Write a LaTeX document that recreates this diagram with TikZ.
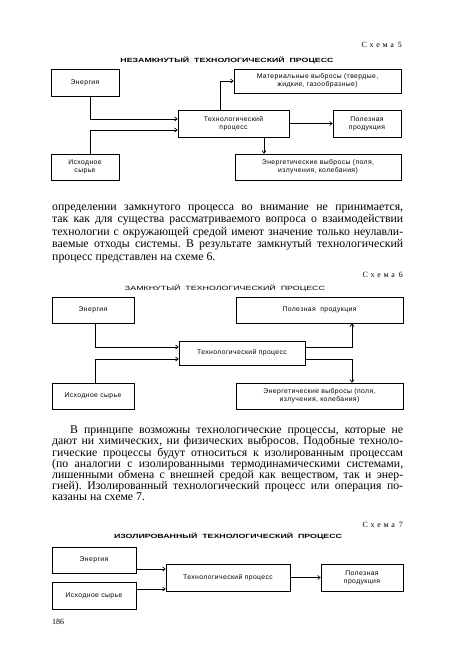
\documentclass[tikz,border=0pt]{standalone}
\usepackage{fontspec}
\setmainfont{Liberation Serif}
\newfontfamily\boxfont[LetterSpace=6]{Liberation Sans}
\newfontfamily\titlefont{Liberation Sans}
\usetikzlibrary{arrows.meta}
\newcommand\plinebox[1]{\makebox[351pt][s]{#1}}
\frenchspacing
\begin{document}
\begin{tikzpicture}[x=1pt,y=-1pt,
  box/.style={draw, line width=0.7pt, inner sep=0pt, align=center,
    font=\boxfont\fontsize{6.8}{8}\selectfont},
  con/.style={line width=0.7pt, -{Straight Barb[length=2.5pt,width=4pt]}},
  body/.style={anchor=base west, inner sep=0pt, font=\fontsize{11.8}{12}\selectfont},
  schema/.style={anchor=base east, inner sep=0pt, font=\fontsize{8}{9}\selectfont},
  ttl/.style={anchor=base, inner sep=0pt}]
\useasboundingbox[fill=white] (0,0) rectangle (450,662);

% ---------- Scheme 5 ----------
\node[schema] (c5) at (402,47) {С\,\,х\,\,е\,\,м\,\,а\,\,\,5};
\node[ttl] (t5) at (227,62) {\resizebox{213pt}{5.5pt}{\titlefont\bfseries НЕЗАМКНУТЫЙ\ \ ТЕХНОЛОГИЧЕСКИЙ\ \ ПРОЦЕСС}};

\node[box, minimum width=68pt, minimum height=27pt] (e5) at (85,82.5) {Энергия};
\node[box, minimum width=167pt, minimum height=24pt] (m5) at (317.5,81) {Материальные выбросы (твердые,\\жидкие, газообразные)};
\node[box, minimum width=111pt, minimum height=27pt] (p5) at (233.5,123.5) {Технологический\\процесс};
\node[box, minimum width=68pt, minimum height=27pt] (u5) at (367,123.5) {Полезная\\продукция};
\node[box, minimum width=68pt, minimum height=26pt] (s5) at (85,167) {Исходное\\сырье};
\node[box, minimum width=166pt, minimum height=26pt] (r5) at (318,167) {Энергетические выбросы (поля,\\излучения, колебания)};

\draw[con] ([xshift=5pt]e5.south) |- ([yshift=4.5pt]p5.west);
\draw[con] ([xshift=5pt]s5.north) |- ([yshift=-6.5pt]p5.west);
\draw[con] ([xshift=-13.5pt]p5.north) |- (m5.west);
\draw[con] (p5) -- (u5);
\draw[con] ([xshift=30.5pt]p5.south) -- ([xshift=30.5pt]p5.south |- r5.north);

% ---------- Paragraph 1 ----------
\node[body] (a1) at (52,210) {\plinebox{определении замкнутого процесса во внимание не принимается,}};
\node[body] (a2) at (52,222.5) {\plinebox{так как для существа рассматриваемого вопроса о взаимодействии}};
\node[body] (a3) at (52,235) {\plinebox{технологии с окружающей средой имеют значение только неулавли-}};
\node[body] (a4) at (52,247.5) {\plinebox{ваемые отходы системы. В результате замкнутый технологический}};
\node[body] (a5) at (52,260) {процесс представлен на схеме 6.};

% ---------- Scheme 6 ----------
\node[schema] (c6) at (403,277) {С\,\,х\,\,е\,\,м\,\,а\,\,\,6};
\node[ttl] (t6) at (225,290) {\resizebox{200pt}{5.5pt}{\titlefont ЗАМКНУТЫЙ\ \ ТЕХНОЛОГИЧЕСКИЙ\ \ ПРОЦЕСС}};

\node[box, minimum width=82pt, minimum height=26pt] (e6) at (93,310) {Энергия};
\node[box, minimum width=167pt, minimum height=26pt] (u6) at (319.5,310) {Полезная\ \ продукция};
\node[box, minimum width=126pt, minimum height=24pt] (p6) at (242,353) {Технологический процесс};
\node[box, minimum width=82pt, minimum height=26pt] (s6) at (93,396) {Исходное сырье};
\node[box, minimum width=167pt, minimum height=26pt] (r6) at (319.5,396) {Энергетические выбросы (поля,\\излучения, колебания)};

\draw[con] ([xshift=2pt]e6.south) |- ([yshift=6pt]p6.west);
\draw[con] ([xshift=2pt]s6.north) |- ([yshift=-6pt]p6.west);
\draw[con] ([yshift=6pt]p6.east) -| ([xshift=32.5pt]u6.south);
\draw[con] ([yshift=-6pt]p6.east) -| ([xshift=32.5pt]r6.north);

% ---------- Paragraph 2 ----------
\node[body] (b1) at (70,433) {\makebox[333pt][s]{В принципе возможны технологические процессы, которые не}};
\node[body] (b2) at (52,444.5) {\plinebox{дают ни химических, ни физических выбросов. Подобные техноло-}};
\node[body] (b3) at (52,456) {\plinebox{гические процессы будут относиться к изолированным процессам}};
\node[body] (b4) at (52,467) {\plinebox{(по аналогии с изолированными термодинамическими системами,}};
\node[body] (b5) at (52,478) {\plinebox{лишенными обмена с внешней средой как веществом, так и энер-}};
\node[body] (b6) at (52,489) {\plinebox{гией). Изолированный технологический процесс или операция по-}};
\node[body] (b7) at (52,500.5) {казаны на схеме 7.};

% ---------- Scheme 7 ----------
\node[schema] (c7) at (403,527) {С\,\,х\,\,е\,\,м\,\,а\,\,\,7};
\node[ttl] (t7) at (228,538) {\resizebox{228pt}{5.5pt}{\titlefont\bfseries ИЗОЛИРОВАННЫЙ\ \ ТЕХНОЛОГИЧЕСКИЙ\ \ ПРОЦЕСС}};

\node[box, minimum width=84pt, minimum height=26pt] (e7) at (94,560) {Энергия};
\node[box, minimum width=84pt, minimum height=27pt] (s7) at (94,595.5) {Исходное сырье};
\node[box, minimum width=124pt, minimum height=27pt] (p7) at (228,577.5) {Технологический процесс};
\node[box, minimum width=82pt, minimum height=27pt] (u7) at (362,577.5) {Полезная\\продукция};

\draw[con] ([yshift=-9pt]e7.east) -- ([yshift=8.5pt]p7.west);
\draw[con] ([yshift=6.5pt]s7.east) -- ([yshift=-11.5pt]p7.west);
\draw[con] (p7) -- (u7);

\node[anchor=base west, inner sep=0pt, font=\fontsize{8}{9}\selectfont] (pg) at (52,624) {186};
\end{tikzpicture}
\end{document}
